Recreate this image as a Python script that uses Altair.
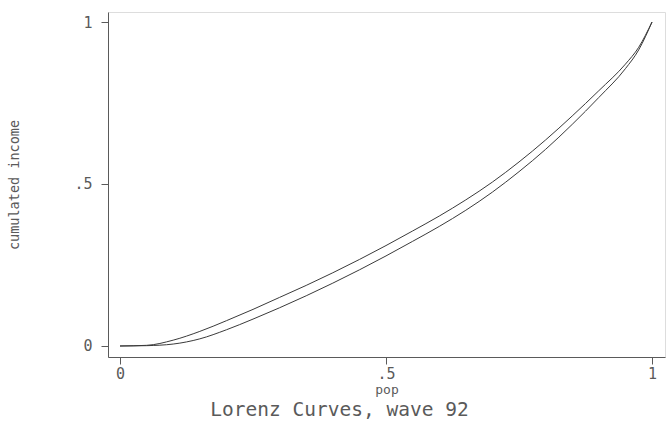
import altair as alt
import pandas as pd

pop = [0.00, 0.05, 0.10, 0.15, 0.20, 0.25, 0.30, 0.35, 0.40, 0.45, 0.50,
       0.55, 0.60, 0.65, 0.70, 0.75, 0.80, 0.85, 0.90, 0.95, 0.975, 1.00]
lorenz_upper = [0.000, 0.002, 0.018, 0.045, 0.078, 0.113, 0.150, 0.187, 0.226, 0.267, 0.310,
                0.355, 0.401, 0.451, 0.506, 0.568, 0.636, 0.710, 0.788, 0.870, 0.922, 1.000]
lorenz_lower = [0.000, 0.001, 0.006, 0.022, 0.050, 0.083, 0.118, 0.155, 0.194, 0.235, 0.278,
                0.323, 0.369, 0.419, 0.475, 0.538, 0.607, 0.684, 0.767, 0.856, 0.914, 1.000]
x_ticks = [0, 0.5, 1]
y_ticks = [0, 0.5, 1]

df = pd.DataFrame({
    "pop": pop + pop,
    "cum": lorenz_upper + lorenz_lower,
    "curve": ["upper"] * len(pop) + ["lower"] * len(pop),
})

FONT = "DejaVu Sans Mono"
GRAY = "#5a5a5a"
label_expr = "datum.value == 0.5 ? '.5' : format(datum.value, 'd')"

chart = alt.Chart(df).mark_line(
    color="#3a3a3a", strokeWidth=1, interpolate="monotone"
).encode(
    x=alt.X("pop:Q",
            scale=alt.Scale(domain=[-0.02256, 1.0244], nice=False, zero=False),
            axis=alt.Axis(values=x_ticks, labelExpr=label_expr, title="pop",
                          grid=False, tickSize=7, labelPadding=2,
                          labelFontSize=15, labelFont=FONT, labelColor=GRAY,
                          titleFontSize=13, titleFont=FONT, titleColor=GRAY,
                          titleFontWeight="normal", titlePadding=2,
                          domainColor=GRAY, tickColor=GRAY)),
    y=alt.Y("cum:Q",
            scale=alt.Scale(domain=[-0.034, 1.0309], nice=False, zero=False),
            axis=alt.Axis(values=y_ticks, labelExpr=label_expr,
                          title="cumulated income",
                          grid=False, tickSize=7, labelPadding=9,
                          labelFontSize=15, labelFont=FONT, labelColor=GRAY,
                          titleFontSize=13.5, titleFont=FONT, titleColor=GRAY,
                          titleFontWeight="normal", titlePadding=52,
                          domainColor=GRAY, tickColor=GRAY)),
    detail="curve:N",
).properties(
    width=557,
    height=345,
    padding={"left": 108, "top": 12, "right": 2, "bottom": 70},
    autosize=alt.AutoSizeParams(type="none"),
    title=alt.TitleParams(text="Lorenz Curves, wave 92", orient="bottom",
                          anchor="middle", dx=-47, offset=5, fontSize=19.5,
                          font=FONT, fontWeight="normal", color=GRAY),
).configure_view(stroke=None).configure(background="white")

chart.save("out.html", embed_options={"renderer": "svg", "actions": False})
